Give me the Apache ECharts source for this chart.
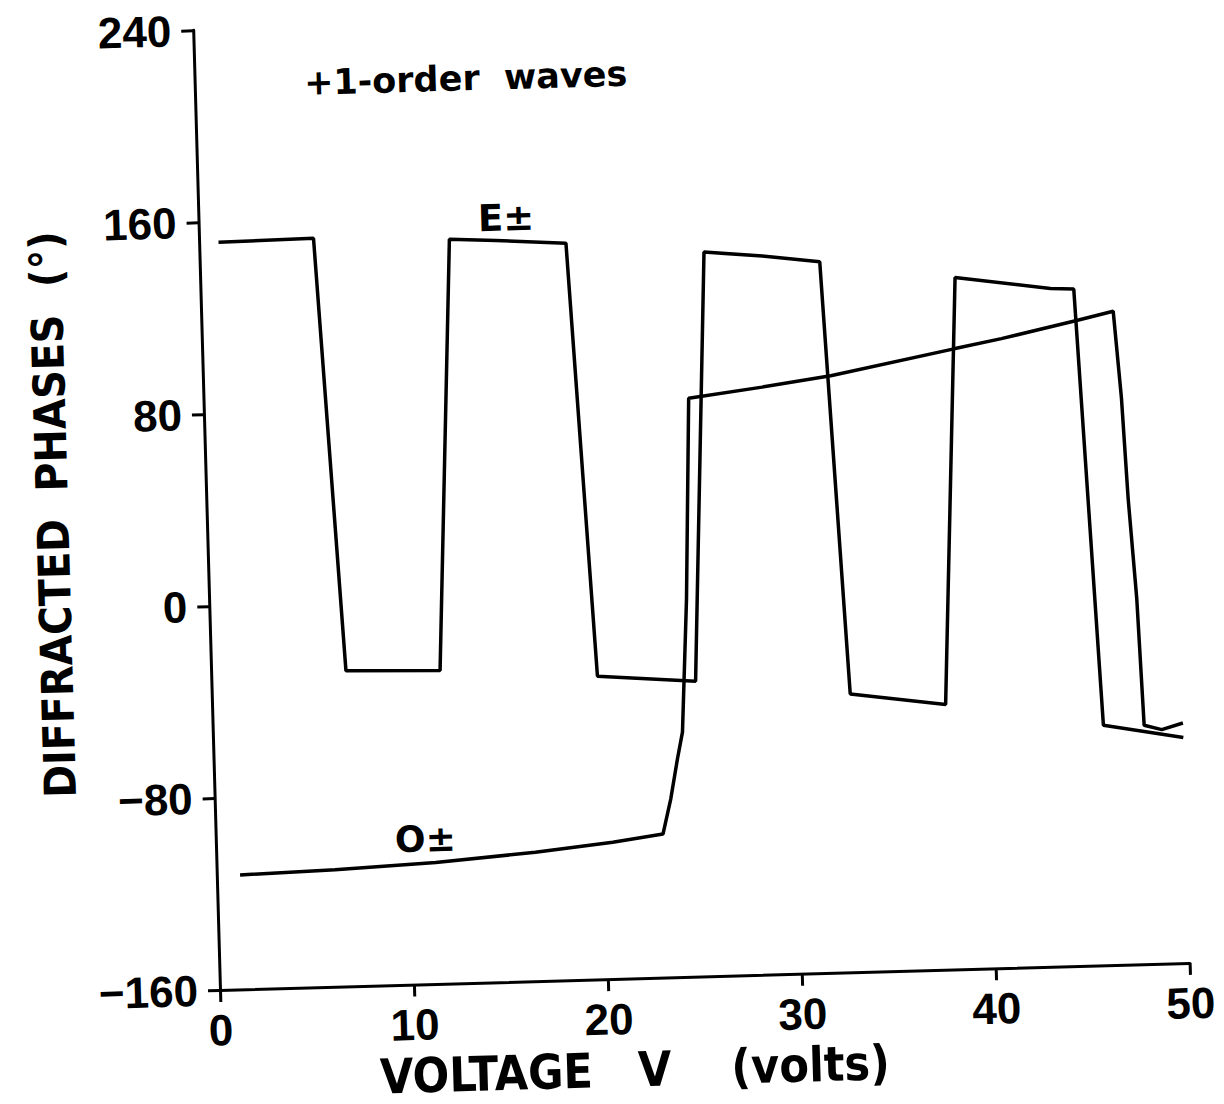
<!DOCTYPE html>
<html>
<head>
<meta charset="utf-8">
<title>Diffracted phases vs voltage</title>
<script src="https://cdn.jsdelivr.net/npm/echarts@6/dist/echarts.min.js"></script>
<style>
  html, body { margin: 0; padding: 0; background: #fff; overflow: hidden; }
  /* the scanned figure is a bit skewed, so the whole chart box is turned about the origin */
  #chart { width: 1224px; height: 1104px; transform: rotate(-1.6deg); transform-origin: 220px 990px; }
</style>
</head>
<body>
<div id="chart"></div>
<script>
// axes
const xMin = 0, xMax = 50, xStep = 10
const yMin = -160, yMax = 240, yStep = 80

// E± wave (voltage in volts, phase in degrees)
const eVolts = [1.0, 5.9, 6.95, 11.8, 12.9, 15.3, 18.9, 19.9, 24.95, 26.0, 29.0, 31.95, 32.9, 37.8, 38.9, 43.8, 45.0, 45.9, 50.0]
const ePhase = [151.5, 152, -28.5, -29.5, 150, 149, 147, -33.7, -36.9, 141.7, 139.4, 136.3, -44, -49.5, 128.2, 122.5, 122, -60, -66]

// O± wave
const oVolts = [1.2, 6.1, 11.3, 16.45, 20.45, 23.05, 23.5, 23.9, 24.2, 24.3, 24.6, 25.0, 28.8, 32.35, 38.8, 41.2, 45.1, 47.0, 47.3, 47.5, 47.8, 48.0, 48.9, 50.0]
const oPhase = [-112.3, -111.3, -109.4, -106.3, -103, -100.2, -85.7, -69.2, -58, -44.2, -2.6, 81, 84.8, 88.7, 98.6, 102.2, 108.9, 112.3, 76, 34.3, -7.5, -60.5, -62.5, -60]

// where the curve names sit
const eLabelAt = [15.85, 158.2]
const oLabelAt = [10.8, -99.5]

const narrow = '"DejaVu Sans Condensed", "Liberation Sans", sans-serif'
const plain = '"Liberation Sans", Arial, sans-serif'
const nb = n => '\u00a0'.repeat(n)
const minus = v => String(v).replace('-', '\u2212')

const pairs = (xs, ys) => xs.map((x, i) => [x, ys[i]])

const chart = echarts.init(document.getElementById('chart'), null, { renderer: 'svg' })

const option = {
    animation: false,
    backgroundColor: '#fff',
    title: {
        text: '+1-order' + nb(2) + 'waves',
        left: 491,
        top: 68,
        textAlign: 'center',
        padding: 0,
        textStyle: { fontFamily: '"DejaVu Sans", sans-serif', fontWeight: 'bold', fontSize: 35, color: '#000' }
    },
    // fixed plot box, names are allowed to sit outside it
    grid: { left: 220, right: 34, top: 30, bottom: 114, outerBoundsMode: 'none' },
    xAxis: {
        type: 'value',
        min: xMin, max: xMax, interval: xStep,
        name: 'VOLTAGE' + nb(3) + 'V' + nb(4) + '(volts)',
        nameLocation: 'middle',
        nameGap: 60,
        nameTextStyle: { fontFamily: narrow, fontWeight: 'bold', fontSize: 48, color: '#000', padding: [0, 145, 0, 0] },
        axisLine: { onZero: false, lineStyle: { color: '#000', width: 3 } },
        axisTick: { length: 12, lineStyle: { color: '#000', width: 3 } },
        axisLabel: { margin: 18, fontFamily: plain, fontWeight: 'bold', fontSize: 44, color: '#000', formatter: minus },
        splitLine: { show: false }
    },
    yAxis: {
        type: 'value',
        min: yMin, max: yMax, interval: yStep,
        name: 'DIFFRACTED' + nb(2) + 'PHASES' + nb(2) + '(°)',
        nameLocation: 'middle',
        nameRotate: 90,
        nameGap: 112,
        nameTextStyle: { fontFamily: narrow, fontWeight: 'bold', fontSize: 44, color: '#000' },
        axisLine: { onZero: false, lineStyle: { color: '#000', width: 3 } },
        axisTick: { length: 12, lineStyle: { color: '#000', width: 3 } },
        axisLabel: { margin: 22, fontFamily: plain, fontWeight: 'bold', fontSize: 44, color: '#000', formatter: minus },
        splitLine: { show: false }
    },
    series: [
        {
            name: 'E±',
            type: 'line',
            data: pairs(eVolts, ePhase),
            showSymbol: false,
            lineStyle: { color: '#000', width: 3.5 },
            markPoint: {
                symbol: 'circle',
                symbolSize: 0,
                label: { show: true, position: 'inside', formatter: 'E±', fontFamily: '"DejaVu Sans", sans-serif', fontWeight: 'bold', fontSize: 37, color: '#000' },
                data: [{ coord: eLabelAt }]
            }
        },
        {
            name: 'O±',
            type: 'line',
            data: pairs(oVolts, oPhase),
            showSymbol: false,
            lineStyle: { color: '#000', width: 3.5 },
            markPoint: {
                symbol: 'circle',
                symbolSize: 0,
                label: { show: true, position: 'inside', formatter: 'O±', fontFamily: '"DejaVu Sans", sans-serif', fontWeight: 'bold', fontSize: 36, color: '#000' },
                data: [{ coord: oLabelAt }]
            }
        }
    ]
}

chart.setOption(option)
</script>
</body>
</html>
